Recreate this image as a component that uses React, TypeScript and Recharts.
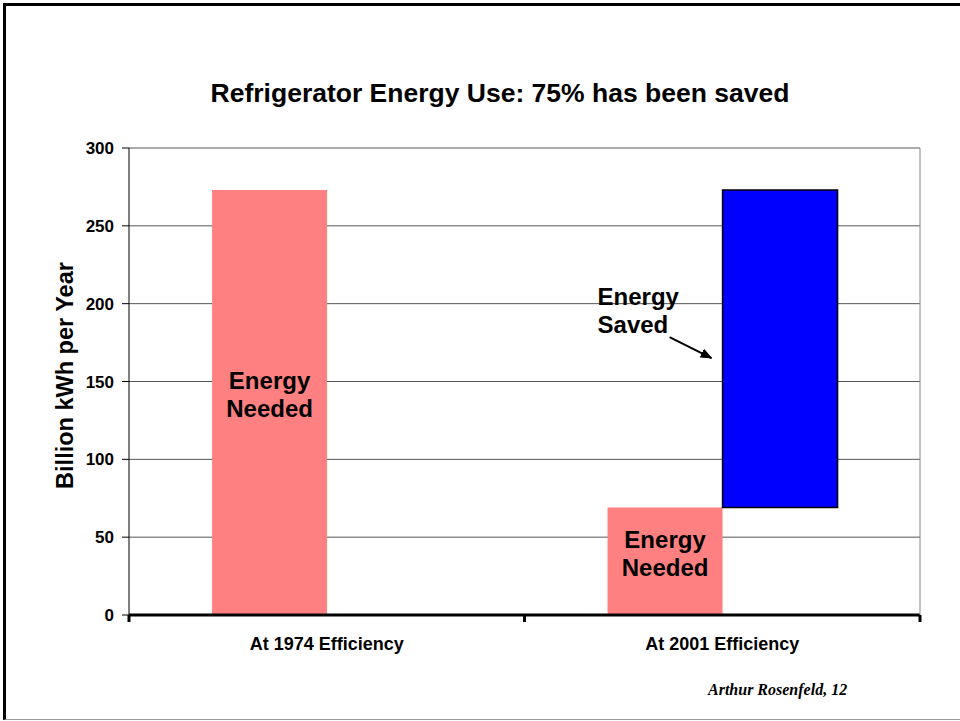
import { Bar, BarChart, CartesianGrid, LabelList, XAxis, YAxis } from "recharts";

const categories = ["At 1974 Efficiency", "At 2001 Efficiency"];
const energyNeeded = [273, 69];
const savedFrom: (number | null)[] = [null, 69];
const savedTo: (number | null)[] = [null, 273];
const yTicks = [0, 50, 100, 150, 200, 250, 300];

const data = categories.map((name, i) => ({
  name,
  needed: energyNeeded[i],
  saved: savedFrom[i] == null ? null : [savedFrom[i], savedTo[i]],
}));

const FONT = '"Liberation Sans", Arial, sans-serif';

const labelText = {
  fontFamily: FONT,
  fontWeight: 700,
  fontSize: 24,
  fill: "#000",
};

function NeededLabel(props: any) {
  const { x, y, width, height } = props;
  if (height == null || height <= 0) return null;
  const cx = x + width / 2;
  const mid = y + height / 2;
  return (
    <g>
      <text {...labelText} x={cx} y={mid - 22} textAnchor="middle" dominantBaseline="central">
        Energy
      </text>
      <text {...labelText} x={cx} y={mid + 6} textAnchor="middle" dominantBaseline="central">
        Needed
      </text>
    </g>
  );
}

function SavedLabel(props: any) {
  const { x, y, value } = props;
  if (value == null) return null;
  return (
    <g>
      <defs>
        <marker
          id="savedArrow"
          markerWidth="12"
          markerHeight="10"
          refX="11"
          refY="5"
          orient="auto"
          markerUnits="userSpaceOnUse"
        >
          <path d="M0,0 L12,5 L0,10 z" fill="#000" />
        </marker>
      </defs>
      <text {...labelText} x={x - 125} y={y + 106} dominantBaseline="central">
        Energy
      </text>
      <text {...labelText} x={x - 125} y={y + 134} dominantBaseline="central">
        Saved
      </text>
      <line
        x1={x - 53}
        y1={y + 147}
        x2={x - 11}
        y2={y + 168}
        stroke="#000"
        strokeWidth={2}
        markerEnd="url(#savedArrow)"
      />
    </g>
  );
}

function CategoryTick(props: any) {
  const { x, y, payload, index, visibleTicksCount } = props;
  const off = payload?.offset ?? 198;
  const last = index === (visibleTicksCount ?? categories.length) - 1;
  return (
    <g>
      <line x1={x - off} y1={y} x2={x - off} y2={y + 7} stroke="#000" strokeWidth={3} />
      {last && <line x1={x + off} y1={y} x2={x + off} y2={y + 7} stroke="#000" strokeWidth={3} />}
      <text
        x={x}
        y={y + 35}
        textAnchor="middle"
        fontFamily={FONT}
        fontWeight={700}
        fontSize={18}
        fill="#000"
      >
        {payload.value}
      </text>
    </g>
  );
}

function YTitle(props: any) {
  const { viewBox } = props;
  const cx = viewBox.x + viewBox.width / 2;
  const cy = viewBox.y + viewBox.height / 2 - 6;
  return (
    <text
      x={cx}
      y={cy}
      transform={`rotate(-90, ${cx}, ${cy})`}
      textAnchor="middle"
      dominantBaseline="central"
      fontFamily={FONT}
      fontWeight={700}
      fontSize={23.5}
      fill="#000"
    >
      Billion kWh per Year
    </text>
  );
}

export default function App() {
  return (
    <div style={{ position: "absolute", left: 0, top: 0, width: 960, height: 721, background: "#fff" }}>
      <div style={{ position: "absolute", left: 0, top: 0 }}>
        <BarChart
          width={960}
          height={721}
          data={data}
          margin={{ top: 148, right: 0, bottom: 56, left: 1 }}
          barCategoryGap="21%"
          barGap={0}
        >
          <CartesianGrid yAxisId="left" vertical={false} stroke="#555" />
          <XAxis
            dataKey="name"
            height={50}
            axisLine={{ stroke: "#000", strokeWidth: 3 }}
            tickLine={false}
            tickSize={0}
            tickMargin={0}
            tick={<CategoryTick />}
            interval={0}
          />
          <YAxis
            yAxisId="left"
            width={128}
            domain={[0, 300]}
            ticks={yTicks}
            axisLine={{ stroke: "#000" }}
            tickLine={{ stroke: "#000" }}
            tickSize={7}
            tickMargin={8}
            tick={{ fontFamily: FONT, fontWeight: 700, fontSize: 17, fill: "#000" }}
            label={<YTitle />}
          />
          <YAxis
            yAxisId="right"
            orientation="right"
            width={40}
            domain={[0, 300]}
            tick={false}
            tickLine={false}
            axisLine={{ stroke: "#888" }}
          />
          <Bar yAxisId="left" dataKey="needed" fill="#FF8080" isAnimationActive={false}>
            <LabelList dataKey="needed" content={<NeededLabel />} />
          </Bar>
          <Bar
            yAxisId="left"
            dataKey="saved"
            fill="#0000FF"
            stroke="#000"
            strokeWidth={1.5}
            isAnimationActive={false}
          >
            <LabelList dataKey="saved" content={<SavedLabel />} />
          </Bar>
        </BarChart>
      </div>
      <div
        style={{
          position: "absolute",
          left: 40,
          top: 80,
          width: 920,
          textAlign: "center",
          fontFamily: FONT,
          fontWeight: 700,
          fontSize: 26.5,
          lineHeight: "26px",
          color: "#000",
        }}
      >
        Refrigerator Energy Use: 75% has been saved
      </div>
      <div
        style={{
          position: "absolute",
          left: 708,
          top: 681,
          fontFamily: '"Liberation Serif", "Times New Roman", serif',
          fontStyle: "italic",
          fontWeight: 700,
          fontSize: 16,
          lineHeight: "18px",
          color: "#000",
          whiteSpace: "nowrap",
        }}
      >
        Arthur Rosenfeld, 12
      </div>
      <div
        style={{
          position: "absolute",
          left: 3,
          top: 3,
          width: 957,
          height: 717,
          boxSizing: "border-box",
          borderTop: "3px solid #000",
          borderLeft: "3px solid #000",
          borderBottom: "1px solid #999",
          pointerEvents: "none",
        }}
      />
    </div>
  );
}
